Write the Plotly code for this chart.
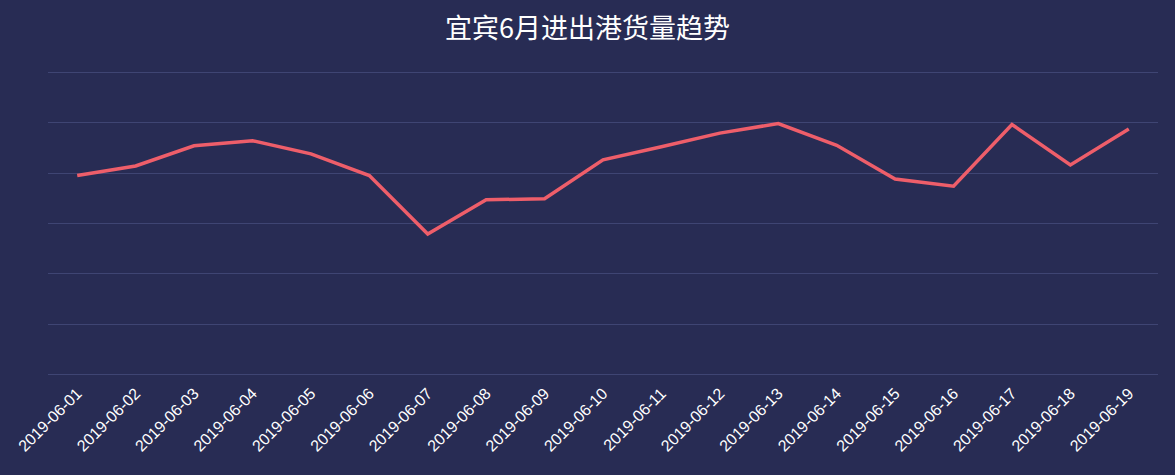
import plotly.graph_objects as go

# 宜宾6月进出港货量 (no y labels shown)
dates = [
    "2019-06-01", "2019-06-02", "2019-06-03", "2019-06-04", "2019-06-05",
    "2019-06-06", "2019-06-07", "2019-06-08", "2019-06-09", "2019-06-10",
    "2019-06-11", "2019-06-12", "2019-06-13", "2019-06-14", "2019-06-15",
    "2019-06-16", "2019-06-17", "2019-06-18", "2019-06-19",
]
volume = [
    790, 828, 908, 928, 876,
    790, 558, 694, 698, 852,
    904, 958, 996, 910, 776,
    748, 992, 832, 974,
]

BG = "#282C54"

fig = go.Figure()
fig.add_trace(go.Scatter(
    x=dates, y=volume, mode="lines",
    line=dict(color="#EE5E6A", width=3.5),
    hoverinfo="x+y",
))

fig.update_layout(
    width=1175, height=475,
    paper_bgcolor=BG, plot_bgcolor=BG,
    # y range padded by 20 units (~5px) so the 0 and 1200 gridlines get drawn
    margin=dict(l=48, r=17, t=67, b=95),
    showlegend=False,
    title=dict(
        text="宜宾6月进出港货量趋势",
        x=0.5, xanchor="center", y=0.94, yanchor="middle",
        font=dict(family="Noto Sans CJK SC", size=27, color="#FFFFFF"),
    ),
    xaxis=dict(
        type="category",
        range=[-0.5, len(dates) - 0.5],
        showgrid=False, zeroline=False, showline=False,
        tickangle=-45,
        tickfont=dict(family="Liberation Sans", size=16, color="#FFFFFF"),
        ticks="", ticklen=0,
    ),
    yaxis=dict(
        range=[-20, 1220], dtick=200, tick0=0,
        showticklabels=False,
        gridcolor="#3F4573", gridwidth=1,
        zeroline=False, showline=False,
    ),
)

# drop the browser's default page margin so the chart fills the window
fig.write_html(
    "out.html",
    config={"displayModeBar": False},
    post_script="document.body.style.margin='0';document.body.style.overflow='hidden';",
)
